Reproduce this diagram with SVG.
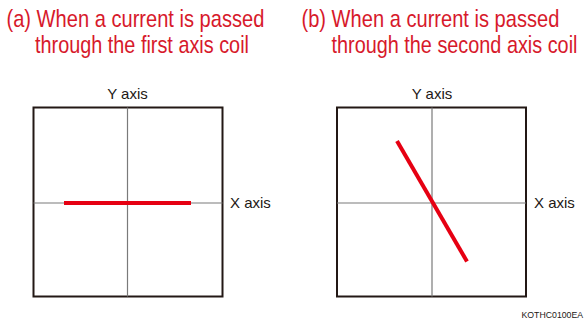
<svg xmlns="http://www.w3.org/2000/svg" width="585" height="322" viewBox="0 0 585 322">
<style>
.title{font-family:"Liberation Sans",Arial,sans-serif;font-size:24px;fill:#d7192b}
.lbl{font-family:"Liberation Sans",Arial,sans-serif;font-size:15px;fill:#231815}
.box{fill:#fff;stroke:#231815;stroke-width:2}
.axis{stroke:#7a7a7a;stroke-width:1.2;fill:none}
.beam{stroke:#e60012;stroke-width:4;fill:none}
.code{font-family:"Liberation Sans",Arial,sans-serif;font-size:9px;fill:#231815}
</style>
<g id="title-a">
<text class="title" transform="translate(6.5,27) scale(0.837,1)">(a) When a current is passed</text>
<text class="title" transform="translate(35,53) scale(0.827,1)">through the first axis coil</text>
</g>
<g id="title-b">
<text class="title" transform="translate(301.5,27) scale(0.837,1)">(b) When a current is passed</text>
<text class="title" transform="translate(331.5,53) scale(0.827,1)">through the second axis coil</text>
</g>
<g id="plot-a">
<rect class="box" x="33.5" y="107.5" width="189" height="189"/>
<line class="axis" x1="127.5" y1="107.5" x2="127.5" y2="296.5"/>
<line class="axis" x1="33.5" y1="203" x2="222.5" y2="203"/>
<line class="beam" x1="64" y1="203" x2="191" y2="203"/>
<text class="lbl" x="127.5" y="99" text-anchor="middle">Y axis</text>
<text class="lbl" x="230" y="208">X axis</text>
</g>
<g id="plot-b">
<rect class="box" x="337" y="107.5" width="189" height="189"/>
<line class="axis" x1="432" y1="107.5" x2="432" y2="296.5"/>
<line class="axis" x1="337" y1="203" x2="526" y2="203"/>
<line class="beam" x1="397" y1="141" x2="467" y2="261.5"/>
<text class="lbl" x="432" y="99" text-anchor="middle">Y axis</text>
<text class="lbl" x="534" y="208">X axis</text>
</g>
<text class="code" transform="translate(521.5,318) scale(0.97,1)">KOTHC0100EA</text>
</svg>
